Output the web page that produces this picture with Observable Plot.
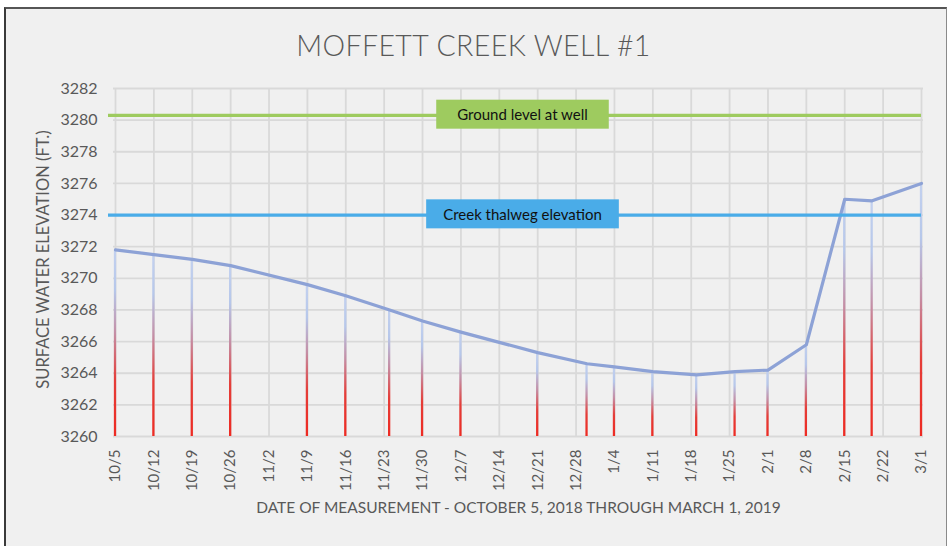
<!DOCTYPE html>
<html>
<head>
<meta charset="utf-8">
<script src="https://cdn.jsdelivr.net/npm/d3@7"></script>
<script src="https://cdn.jsdelivr.net/npm/@observablehq/plot@0.6"></script>
<style>
  html, body { margin: 0; padding: 0; background: #ffffff; }
  body { width: 947px; height: 546px; position: relative; overflow: hidden; font-family: Lato, "Open Sans", sans-serif; }
  #frame { position: absolute; left: 4px; top: 7px; width: 940px; height: 560px; background: #f0f0f0;
           border-left: 2px solid #3a3a3a; border-top: 2px solid #555; border-right: 1px solid #8a8a8a; }
  #title { position: absolute; left: 0; top: 0; width: 947px; height: 66px; text-align: center;
           font-family: Lato, sans-serif; font-weight: 300; font-size: 28.5px; line-height: 90px; color: #595959; letter-spacing: 0.4px; }
  #chart { position: absolute; left: 0; top: 66px; }
</style>
</head>
<body>
<div id="frame"></div>
<div id="title">MOFFETT CREEK WELL #1</div>
<div id="chart"></div>
<script>
// ---- data ----
const dates = ["2018-10-05","2018-10-12","2018-10-19","2018-10-26","2018-11-09","2018-11-16","2018-11-24","2018-11-30","2018-12-07","2018-12-21","2018-12-30","2019-01-04","2019-01-11","2019-01-19","2019-01-26","2019-02-01","2019-02-08","2019-02-15","2019-02-20","2019-03-01"];
const elevations = [3271.8,3271.5,3271.2,3270.8,3269.6,3268.9,3268.0,3267.3,3266.6,3265.3,3264.6,3264.4,3264.1,3263.9,3264.1,3264.2,3265.8,3275.0,3274.9,3276.0];
const tickDates = ["2018-10-05","2018-10-12","2018-10-19","2018-10-26","2018-11-02","2018-11-09","2018-11-16","2018-11-23","2018-11-30","2018-12-07","2018-12-14","2018-12-21","2018-12-28","2019-01-04","2019-01-11","2019-01-18","2019-01-25","2019-02-01","2019-02-08","2019-02-15","2019-02-22","2019-03-01"];
const yTicks = [3260,3262,3264,3266,3268,3270,3272,3274,3276,3278,3280,3282];
const refLabels = ["Ground level at well","Creek thalweg elevation"];
const refValues = [3280.3, 3274.0];
const refColors = ["#9ecb5f","#4aace8"];

const data = dates.map((d, i) => ({date: new Date(d), value: elevations[i]}));
const refs = refLabels.map((l, i) => ({label: l, value: refValues[i], color: refColors[i]}));
const xTicks = tickDates.map(d => new Date(d));
const xDomain = [xTicks[0], xTicks[xTicks.length - 1]];
const midDate = new Date((+xDomain[0] + +xDomain[1]) / 2);
const yBase = yTicks[0];

const gridColor = "#d9d9d9";

const plot = Plot.plot({
  width: 947,
  height: 480,
  marginLeft: 115,
  marginRight: 26,
  marginTop: 22,
  marginBottom: 110,
  style: { background: "transparent", fontFamily: "Lato, sans-serif", color: "#595959", overflow: "visible" },
  x: { type: "utc", domain: xDomain },
  y: { domain: [yTicks[0], yTicks[yTicks.length - 1]] },
  color: { type: "identity" },
  marks: [
    Plot.gridY(yTicks, { stroke: gridColor, strokeOpacity: 1, strokeWidth: 1.8, insetLeft: -2, insetRight: -2 }),
    Plot.gridX(xTicks, { stroke: gridColor, strokeOpacity: 1, strokeWidth: 1.8 }),
    Plot.axisY(yTicks, { tickSize: 0, tickPadding: 18, fontSize: 16, fill: "#595959", label: null, tickFormat: d => String(d) }),
    Plot.axisX(xTicks, { tickSize: 0, tickPadding: 13, fontSize: 15, fill: "#595959", tickRotate: -90,
                         tickFormat: d3.utcFormat("%-m/%-d"), label: null }),
    Plot.rect(data, {
      x1: d => d3.utcHour.offset(d.date, -12),
      x2: d => d3.utcHour.offset(d.date, 12),
      y1: () => yBase, y2: "value",
      fill: "url(#dropGrad)", insetLeft: 1.6, insetRight: 1.6
    }),
    Plot.line(data, { x: "date", y: "value", stroke: "#8da2d6", strokeWidth: 3.2, strokeLinejoin: "round" }),
    Plot.ruleY(refs, { y: "value", stroke: "color", strokeWidth: 3.2, insetLeft: -7 }),
    Plot.text(refs, { x: () => midDate, y: "value", text: "label", fontSize: 15, fill: "#111", dx: 4 }),
    Plot.text(["SURFACE WATER ELEVATION (FT.)"], { frameAnchor: "left", textAnchor: "middle", rotate: -90, dx: -72, dy: -3, fontSize: 16.5, fill: "#595959" }),
    Plot.text(["DATE OF MEASUREMENT - OCTOBER 5, 2018 THROUGH MARCH 1, 2019"], { frameAnchor: "bottom", dy: 76, fontSize: 15.5, fill: "#595959" })
  ]
});

document.getElementById("chart").appendChild(plot);

// gradient for drop lines (red at the bottom, fading to light blue at the top)
const svg = d3.select(plot);
const defs = svg.insert("defs", ":first-child");
const grad = defs.append("linearGradient").attr("id", "dropGrad")
  .attr("x1", 0).attr("y1", 1).attr("x2", 0).attr("y2", 0);
[[0, "#ee2a22"], [0.3, "#e53d38"], [0.55, "#c48ea5"], [0.78, "#b6c7ea"], [1, "#c3d1ef"]]
  .forEach(([o, c]) => grad.append("stop").attr("offset", o).attr("stop-color", c));

// coloured boxes behind the reference labels
svg.selectAll("text").filter(function() { return refLabels.includes(this.textContent); }).each(function() {
  const i = refLabels.indexOf(this.textContent);
  const bb = this.getBBox();
  const padX = i === 0 ? 21 : 17, h = 29;
  const r = d3.select(this.parentNode).insert("rect", () => this)
    .attr("x", bb.x - padX).attr("y", bb.y + bb.height / 2 - h / 2)
    .attr("width", bb.width + 2 * padX).attr("height", h)
    .attr("fill", refColors[i]);
  const t = this.getAttribute("transform");
  if (t) r.attr("transform", t);
});
</script>
</body>
</html>
